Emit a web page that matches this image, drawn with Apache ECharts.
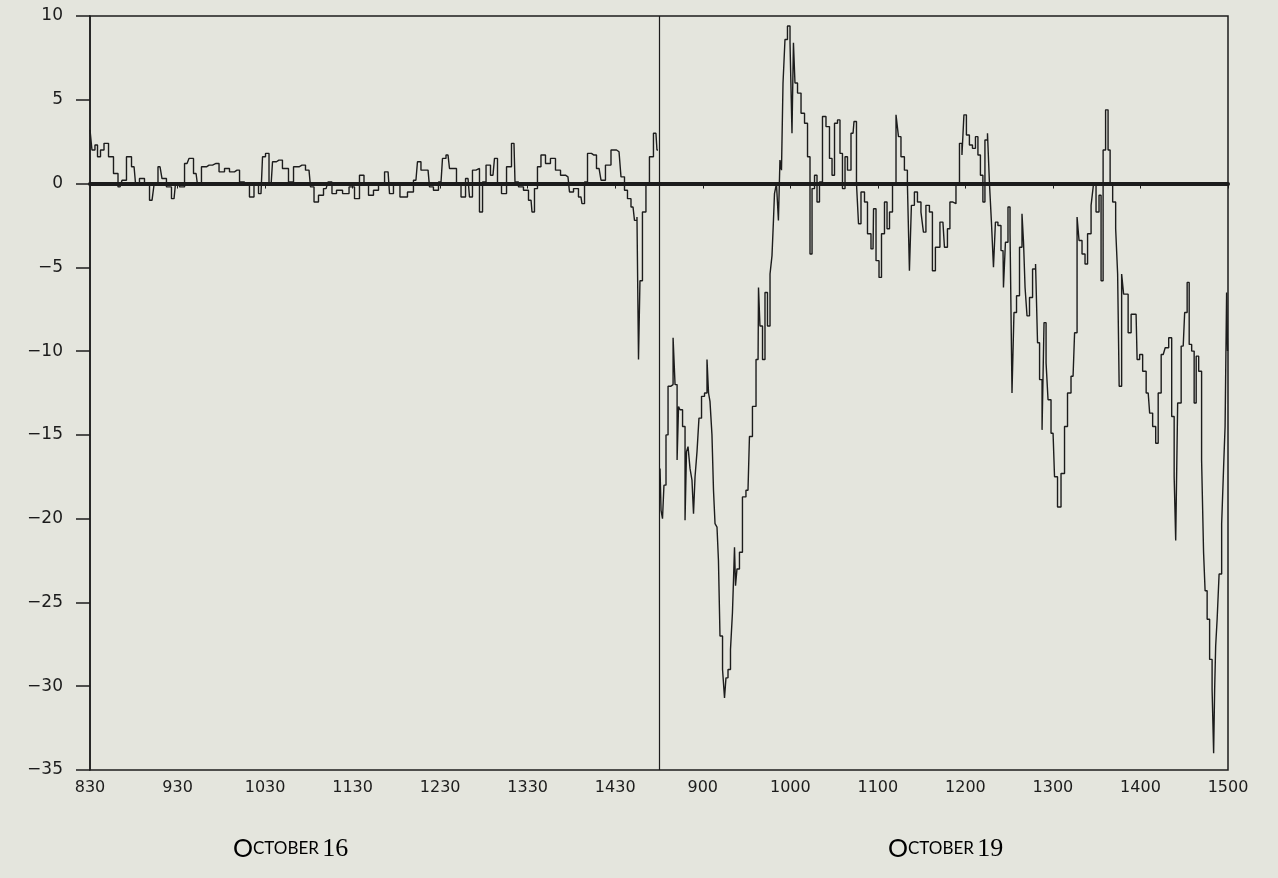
<!DOCTYPE html>
<html>
<head>
<meta charset="utf-8">
<script src="https://cdn.jsdelivr.net/npm/echarts@6/dist/echarts.min.js"></script>
<style>
  html, body { margin: 0; padding: 0; background: #e4e5dd; }
  #chart { width: 1278px; height: 878px; }
</style>
</head>
<body>
<div id="chart"></div>
<script>
// Tick labels along the time axis (one per hour position)
const tickLabels = ['830','930','1030','1130','1230','1330','1430','900','1000','1100','1200','1300','1400','1500'];
const dayLabels = ['October 16', 'October 19'];

// October 16: minutes after midnight, and values
const oct16Minutes = [510,512.7,514.1,516.2,518.2,521.0,524.4,527.8,530.6,533.3,536.7,540.2,542.2,545.6,549.1,552.5,555.2,558.0,560.7,564.1,567.6,569.6,573.1,576.5,579.2,582.7,584.7,588.1,591.6,596.4,600.5,603.9,607.3,610.8,614.2,617.6,621.0,623.8,627.2,629.3,631.3,634.1,636.1,639.5,644.3,647.8,651.2,655.3,660.1,662.2,664.9,668.3,671.8,674.5,677.2,680.7,685.5,689.6,693.0,696.4,699.2,702.6,706.0,709.5,714.3,716.3,719.7,725.2,730.0,733.4,735.5,738.2,741.7,743.7,747.1,750.6,752.6,755.4,757.4,759.5,762.9,765.7,769.1,771.1,773.2,775.9,778.0,780.1,782.8,786.2,788.3,790.3,793.8,797.2,800.6,802.0,805.4,808.8,812.3,813.6,815.7,817.7,820.5,823.9,827.3,830.8,834.2,837.6,839.7,843.1,846.5,847.9,850.0,852.0,855.4,858.9,861.6,865.0,869.2,872.6,875.3,877.4,879.4,882.2,884.2,885.6,886.3,887.6,889.7,892.4,894.5,897.9,899.3];
const oct16Values = [3.2,2.0,2.3,1.6,2.0,2.4,1.6,0.6,-0.2,0.2,1.6,1.0,0.0,0.3,0.0,-1.0,-0.1,1.0,0.3,-0.2,-0.9,0.0,-0.2,1.2,1.5,0.6,-0.1,1.0,1.1,1.2,0.7,0.9,0.7,0.8,0.1,-0.1,-0.8,0.0,-0.6,1.6,1.8,-0.1,1.3,1.4,0.9,0.1,1.0,1.1,0.8,-0.2,-1.1,-0.7,-0.3,0.1,-0.6,-0.4,-0.6,-0.2,-0.9,0.5,-0.1,-0.7,-0.4,-0.1,0.7,-0.6,0.0,-0.8,-0.5,0.2,1.3,0.8,0.8,-0.2,-0.4,0.1,1.5,1.7,0.9,0.9,0.0,-0.8,0.3,-0.8,0.8,0.9,-1.7,0.1,1.1,0.5,1.5,0.0,-0.6,1.0,2.4,0.1,-0.2,-0.4,-1.0,-1.7,-0.3,1.0,1.7,1.2,1.5,0.8,0.5,0.4,-0.5,-0.3,-0.8,-1.2,0.1,1.8,1.7,0.9,0.2,1.1,2.0,1.9,0.4,-0.4,-0.9,-1.4,-2.2,-2.0,-10.5,-5.8,-1.7,0.0,1.6,3.0,2.0];

// October 19: minutes after midnight, and values
const oct19Minutes = [510.7,512.1,512.7,514.1,515.5,516.9,519.0,520.3,521.7,523.1,523.7,525.1,527.2,528.5,529.2,530.6,531.9,533.3,534.0,535.4,536.7,538.1,540.2,542.2,543.6,544.3,545.6,547.0,547.7,549.1,550.4,551.1,552.5,554.6,555.2,556.6,558.0,560.0,560.7,561.4,562.1,562.8,564.1,566.2,568.2,571.0,573.0,575.1,577.9,578.5,579.9,582.0,583.3,585.4,586.8,588.1,588.8,589.5,591.5,592.2,593.6,594.3,595.7,597.0,599.1,600.5,601.8,602.5,603.9,606.0,608.7,610.8,612.8,614.2,615.6,617.6,619.0,621.0,623.1,625.8,627.9,629.3,631.3,633.4,634.7,636.8,638.2,640.2,643.0,644.3,646.4,647.1,649.8,651.9,653.9,656.7,657.4,660.1,661.5,663.5,665.6,667.0,669.0,671.1,673.8,674.5,677.2,679.2,681.3,682.0,684.0,686.1,688.2,690.9,691.6,694.3,696.4,698.4,700.5,704.6,706.7,708.7,710.1,712.2,714.9,717.0,718.3,719.7,721.7,723.8,725.9,727.9,729.3,731.3,732.7,734.1,736.2,736.8,738.9,739.6,741.6,743.0,745.8,746.4,748.5,749.9,751.3,752.6,754.0,756.1,758.1,759.5,760.2,761.6,762.9,765.0,767.1,769.1,769.8,771.9,773.2,774.6,776.0,777.3,780.1,782.1,784.2,786.9,789.0,791.0,793.8,795.9,797.2,798.6,801.3,802.7,804.8,807.5,808.2,810.9,812.3,813.7,815.1,817.1,818.5,819.9,822.0,824.0,824.7,826.1,828.1,828.8,830.9,832.2,835.0,837.0,838.4,840.5,842.5,845.3,847.3,849.4,851.5,852.8,855.6,858.3,860.4,862.4,863.8,864.5,866.5,869.3,871.3,872.7,874.1,876.1,877.5,878.9,880.9,882.9,883.6,885.0,886.4,888.4,889.8,890.5,891.2,891.9,893.2,894.6,896.7,897.3,898.7,899.4,900.0];
const oct19Values = [-17.0,-19.5,-20.0,-18.0,-15.0,-12.1,-12.0,-9.2,-12.0,-16.5,-13.3,-13.5,-14.5,-20.1,-16.0,-15.7,-17.0,-17.7,-19.7,-17.5,-16.0,-14.0,-12.7,-12.5,-10.5,-12.5,-13.0,-15.0,-18.3,-20.3,-20.5,-22.5,-27.0,-29.0,-30.7,-29.5,-29.0,-27.8,-25.6,-23.7,-21.7,-24.0,-23.0,-22.0,-18.7,-18.3,-15.1,-13.3,-10.5,-6.2,-8.5,-10.5,-6.5,-8.5,-5.4,-4.3,-2.2,-0.6,0.0,-2.2,1.4,0.8,6.0,8.6,9.4,8.4,3.0,8.4,6.0,5.4,4.2,3.6,1.6,-4.2,-0.3,0.5,-1.1,0.1,4.0,3.4,1.5,0.5,3.6,3.8,1.8,-0.3,1.6,0.8,3.0,3.7,0.0,-2.4,-0.5,-1.1,-3.0,-3.9,-1.5,-4.6,-5.6,-3.0,-1.1,-2.7,-1.7,0.0,4.1,2.8,1.6,0.8,0.0,-5.2,-1.3,-0.5,-1.1,-1.7,-2.9,-1.3,-1.7,-5.2,-3.8,-2.3,-3.8,-2.7,-1.1,-1.2,0.0,2.4,1.7,4.1,2.9,2.3,2.1,2.8,1.7,0.5,-1.1,2.6,3.0,0.0,-2.3,-5.0,-2.3,-2.5,-4.0,-6.2,-3.5,-1.4,-2.9,-12.5,-7.7,-6.7,-3.8,-1.8,-3.5,-6.2,-7.9,-6.8,-5.1,-4.8,-9.5,-11.7,-14.7,-8.3,-10.7,-12.9,-14.9,-17.5,-19.3,-17.3,-14.5,-12.5,-11.5,-8.9,-2.0,-3.4,-4.2,-4.8,-3.0,-1.3,0.0,-1.7,-0.7,-5.8,2.0,4.4,2.0,0.0,-1.1,-2.7,-5.4,-12.1,-5.4,-6.6,-6.6,-8.9,-7.8,-7.8,-10.5,-10.2,-11.2,-12.5,-13.7,-14.5,-15.5,-12.5,-10.2,-9.8,-9.2,-13.9,-17.5,-21.3,-13.1,-9.7,-7.7,-5.9,-9.6,-10.0,-13.1,-10.3,-11.2,-16.5,-22.0,-24.3,-26.0,-28.4,-30.2,-34.0,-30.2,-27.6,-26.0,-23.3,-20.3,-16.9,-14.5,-6.5,-10.0];

const dayStartMin = 510;            // 08:30
const dayOffsets = [0, 6.5];        // hours of axis used by each day
function toAxis(mins, vals, off) {
  return mins.map((m, i) => [(m - dayStartMin) / 60 + off, vals[i]]);
}

const ink = '#1c1c1c';
const chart = echarts.init(document.getElementById('chart'));

function dayRich(label) {
  const parts = label.split(' ');
  const w = parts[0];
  return '{big|' + w[0].toUpperCase() + '}{small|' + w.slice(1).toUpperCase() + '} {num|' + parts[1] + '}';
}
const richStyle = {
  big: { fontFamily: 'Lato', fontSize: 25, color: ink },
  small: { fontFamily: 'Lato', fontSize: 17, color: ink },
  num: { fontFamily: 'Liberation Serif', fontSize: 26, color: ink }
};

chart.setOption({
  backgroundColor: '#e4e5dd',
  animation: false,
  grid: { left: 90, right: 50, top: 16, bottom: 108, show: true, borderColor: ink, borderWidth: 1.5, backgroundColor: 'transparent' },
  xAxis: {
    type: 'value', min: 0, max: 13, interval: 1,
    axisLine: { show: true, lineStyle: { color: ink, width: 4 } },
    axisTick: { show: true, length: 5, lineStyle: { color: ink, width: 1 } },
    splitLine: { show: false },
    axisLabel: {
      margin: 10, fontFamily: 'DejaVu Sans', fontSize: 16, color: ink,
      formatter: v => tickLabels[Math.round(v)] || ''
    }
  },
  yAxis: {
    type: 'value', min: -35, max: 10, interval: 5,
    axisLine: { show: true, lineStyle: { color: ink, width: 1.5 } },
    axisTick: { show: true, length: 14, lineStyle: { color: ink, width: 1.5 } },
    splitLine: { show: false },
    axisLabel: {
      margin: 27, fontFamily: 'DejaVu Sans', fontSize: 17, color: ink,
      formatter: v => String(v).replace('-', '\u2212')
    }
  },
  graphic: [
    { type: 'text', left: 233, top: 836, style: { text: dayRich(dayLabels[0]), rich: richStyle } },
    { type: 'text', left: 888, top: 836, style: { text: dayRich(dayLabels[1]), rich: richStyle } }
  ],
  series: [
    {
      type: 'line', data: toAxis(oct16Minutes, oct16Values, dayOffsets[0]),
      showSymbol: false, symbol: 'none', step: 'middle',
      lineStyle: { color: ink, width: 1.4 },
      markLine: {
        silent: true, symbol: 'none', label: { show: false },
        lineStyle: { color: ink, type: 'solid', width: 2 },
        data: [{ yAxis: 0 }]
      }
    },
    {
      type: 'line', data: toAxis(oct19Minutes, oct19Values, dayOffsets[1]),
      showSymbol: false, symbol: 'none', step: 'middle',
      lineStyle: { color: ink, width: 1.4 },
      markLine: {
        silent: true, symbol: 'none', label: { show: false },
        lineStyle: { color: ink, type: 'solid', width: 1.2 },
        data: [{ xAxis: dayOffsets[1] }]
      }
    }
  ]
});
</script>
</body>
</html>
